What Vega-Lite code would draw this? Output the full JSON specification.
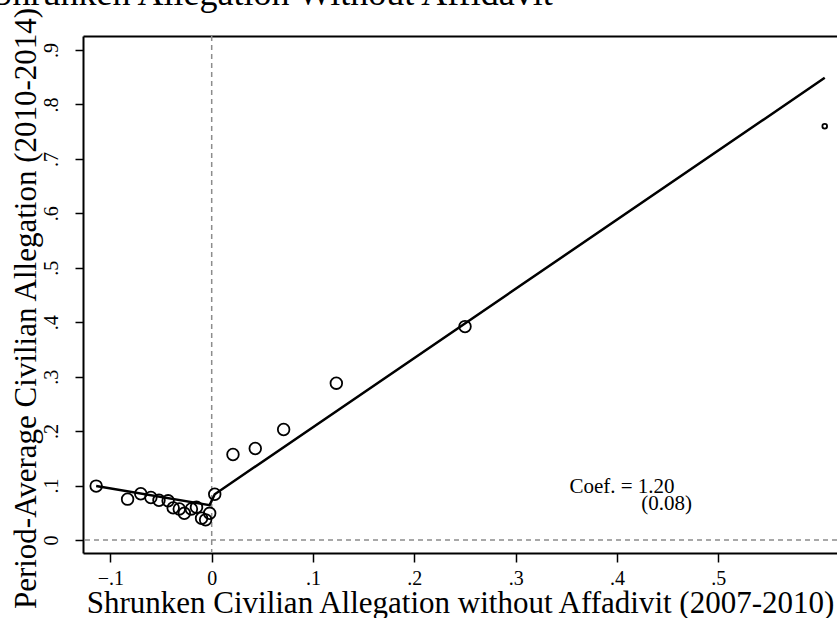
{
  "$schema": "https://vega.github.io/schema/vega-lite/v6.json",
  "autosize": "none",
  "padding": {"left": 83, "top": 36, "right": 0, "bottom": 65},
  "width": 754,
  "height": 517,
  "background": "white",
  "config": {
    "view": {"stroke": null},
    "font": "Liberation Serif"
  },
  "datasets": {
    "pts": [
      {"x": -0.114, "y": 0.099, "grp": "bin"},
      {"x": -0.083, "y": 0.075, "grp": "bin"},
      {"x": -0.070, "y": 0.085, "grp": "bin"},
      {"x": -0.060, "y": 0.078, "grp": "bin"},
      {"x": -0.052, "y": 0.073, "grp": "bin"},
      {"x": -0.043, "y": 0.072, "grp": "bin"},
      {"x": -0.038, "y": 0.059, "grp": "bin"},
      {"x": -0.032, "y": 0.057, "grp": "bin"},
      {"x": -0.027, "y": 0.049, "grp": "bin"},
      {"x": -0.020, "y": 0.057, "grp": "bin"},
      {"x": -0.015, "y": 0.060, "grp": "bin"},
      {"x": -0.010, "y": 0.040, "grp": "bin"},
      {"x": -0.006, "y": 0.037, "grp": "bin"},
      {"x": -0.002, "y": 0.049, "grp": "bin"},
      {"x": 0.003, "y": 0.084, "grp": "bin"},
      {"x": 0.021, "y": 0.157, "grp": "bin"},
      {"x": 0.043, "y": 0.168, "grp": "bin"},
      {"x": 0.071, "y": 0.203, "grp": "bin"},
      {"x": 0.123, "y": 0.288, "grp": "bin"},
      {"x": 0.250, "y": 0.392, "grp": "bin"},
      {"x": 0.605, "y": 0.760, "grp": "sparse"}
    ],
    "fit": [
      {"x": -0.114, "y": 0.099},
      {"x": -0.002, "y": 0.064},
      {"x": 0.003, "y": 0.084},
      {"x": 0.605, "y": 0.849}
    ],
    "ref": [{"v": 0}],
    "notes": [
      {"x": 0.353, "y": 0.086, "label": "Coef. =  1.20", "side": "left"},
      {"x": 0.474, "y": 0.055, "label": "(0.08)", "side": "right"}
    ]
  },
  "layer": [
    {
      "data": {"name": "ref"},
      "mark": {"type": "rule", "color": "#8c8c8c", "strokeWidth": 1.5, "strokeDash": [5, 4]},
      "encoding": {
        "x": {"field": "v", "type": "quantitative", "scale": {"domain": [-0.127, 0.6171], "nice": false, "zero": false},
          "axis": {
            "orient": "bottom",
            "values": [-0.1, 0, 0.1, 0.2, 0.3, 0.4, 0.5],
            "labelExpr": "datum.value == 0 ? '0' : replace(format(datum.value, '.1f'), '0.', '.')",
            "title": "Shrunken Civilian Allegation without Affadivit (2007-2010)",
            "titleFont": "Liberation Serif",
            "titleFontSize": 31,
            "titleFontWeight": "normal",
            "titleColor": "black",
            "titleBaseline": "alphabetic",
            "titleY": 59,
            "labelFont": "Liberation Serif",
            "labelFontSize": 20,
            "labelColor": "black",
            "labelPadding": 6,
            "tickSize": 9,
            "tickColor": "black",
            "tickWidth": 1.5,
            "domainColor": "black",
            "domainWidth": 2,
            "grid": false
          }
        }
      }
    },
    {
      "data": {"name": "ref"},
      "mark": {"type": "rule", "color": "#8c8c8c", "strokeWidth": 1.5, "strokeDash": [5, 4]},
      "encoding": {
        "y": {"field": "v", "type": "quantitative", "scale": {"domain": [-0.0239, 0.9258], "nice": false, "zero": false},
          "axis": {
            "orient": "left",
            "values": [0, 0.1, 0.2, 0.3, 0.4, 0.5, 0.6, 0.7, 0.8, 0.9],
            "labelExpr": "datum.value == 0 ? '0' : replace(format(datum.value, '.1f'), '0.', '.')",
            "labelAngle": 270,
            "labelAlign": "center",
            "labelBaseline": "bottom",
            "labelPadding": 14,
            "labelFont": "Liberation Serif",
            "labelFontSize": 20,
            "labelColor": "black",
            "tickSize": 8,
            "tickColor": "black",
            "tickWidth": 1.5,
            "domainColor": "black",
            "domainWidth": 2,
            "grid": false,
            "title": "Period-Average Civilian Allegation (2010-2014)",
            "titleFont": "Liberation Serif",
            "titleFontSize": 31,
            "titleFontWeight": "normal",
            "titleColor": "black",
            "titleAngle": -90,
            "titleAlign": "center",
            "titleBaseline": "alphabetic",
            "titleX": -48,
            "titleY": 272
          }
        }
      }
    },
    {
      "data": {"name": "fit"},
      "mark": {"type": "line", "color": "black", "strokeWidth": 2.5},
      "encoding": {
        "x": {"field": "x", "type": "quantitative",
          "axis": {
            "orient": "top",
            "labels": false,
            "ticks": false,
            "grid": false,
            "domainColor": "black",
            "domainWidth": 2,
            "title": "Shrunken Allegation Without Affidavit",
            "titleFont": "Liberation Serif",
            "titleFontSize": 36,
            "titleFontWeight": "normal",
            "titleColor": "black",
            "titleAlign": "left",
            "titleAnchor": "start",
            "titleBaseline": "alphabetic",
            "titleX": -91,
            "titleY": -32
          }
        },
        "y": {"field": "y", "type": "quantitative"}
      }
    },
    {
      "data": {"name": "pts"},
      "mark": {"type": "point", "shape": "circle", "filled": false, "stroke": "black", "strokeWidth": 1.8, "opacity": 1},
      "encoding": {
        "x": {"field": "x", "type": "quantitative", "axis": null},
        "y": {"field": "y", "type": "quantitative"},
        "size": {"field": "grp", "type": "nominal", "scale": {"domain": ["bin", "sparse"], "range": [135, 22]}, "legend": null}
      }
    },
    {
      "data": {"name": "notes"},
      "transform": [{"filter": "datum.side == 'left'"}],
      "mark": {"type": "text", "align": "left", "baseline": "alphabetic", "font": "Liberation Serif", "fontSize": 21, "color": "black"},
      "encoding": {
        "x": {"field": "x", "type": "quantitative", "axis": null},
        "y": {"field": "y", "type": "quantitative"},
        "text": {"field": "label"}
      }
    },
    {
      "data": {"name": "notes"},
      "transform": [{"filter": "datum.side == 'right'"}],
      "mark": {"type": "text", "align": "right", "baseline": "alphabetic", "font": "Liberation Serif", "fontSize": 21, "color": "black"},
      "encoding": {
        "x": {"field": "x", "type": "quantitative", "axis": null},
        "y": {"field": "y", "type": "quantitative"},
        "text": {"field": "label"}
      }
    }
  ],
  "resolve": {"axis": {"x": "independent"}}
}
